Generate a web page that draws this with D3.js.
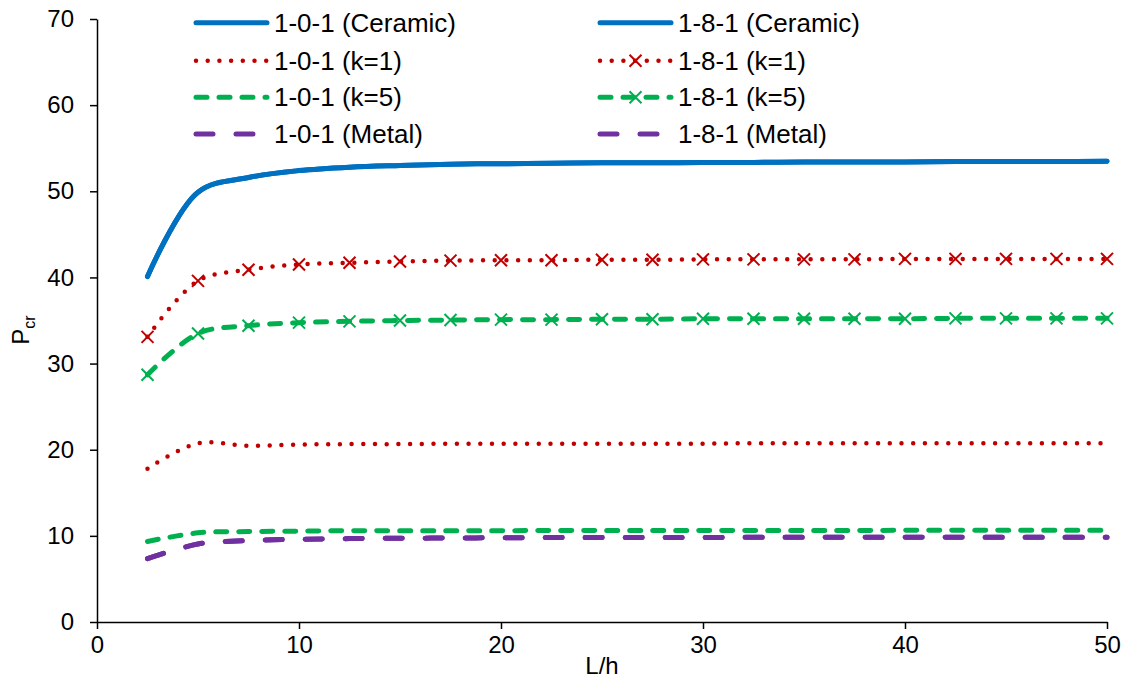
<!DOCTYPE html>
<html>
<head>
<meta charset="utf-8">
<script src="https://cdn.jsdelivr.net/npm/d3@7"></script>
<style>
  body { margin: 0; background: #fff; }
  text { font-family: "Liberation Sans", Arial, sans-serif; fill: #000; }
</style>
</head>
<body>
<svg width="1130" height="679"></svg>
<script>
// L/h values, shared by every series
const lh = [2.5, 5, 7.5, 10, 12.5, 15, 17.5, 20, 22.5, 25, 27.5, 30, 32.5, 35, 37.5, 40, 42.5, 45, 47.5, 50];

const ceramic101 = [40.1, 49.9, 51.6, 52.4, 52.8, 53.0, 53.15, 53.2, 53.25, 53.3, 53.3, 53.35, 53.35, 53.4, 53.4, 53.4, 53.45, 53.45, 53.45, 53.5];
const k1_101 = [17.8, 20.75, 20.45, 20.6, 20.65, 20.65, 20.7, 20.7, 20.7, 20.7, 20.7, 20.7, 20.75, 20.75, 20.75, 20.75, 20.75, 20.75, 20.75, 20.75];
const k5_101 = [9.35, 10.35, 10.5, 10.55, 10.6, 10.6, 10.6, 10.6, 10.62, 10.62, 10.62, 10.62, 10.63, 10.63, 10.63, 10.64, 10.64, 10.65, 10.65, 10.65];
const metal101 = [7.35, 9.05, 9.45, 9.6, 9.68, 9.72, 9.75, 9.78, 9.8, 9.8, 9.82, 9.82, 9.83, 9.83, 9.84, 9.84, 9.85, 9.85, 9.85, 9.85];

const ceramic181 = [40.1, 49.9, 51.6, 52.4, 52.8, 53.0, 53.15, 53.2, 53.25, 53.3, 53.3, 53.35, 53.35, 53.4, 53.4, 53.4, 53.45, 53.45, 53.45, 53.5];
const k1_181 = [33.1, 39.6, 40.9, 41.5, 41.7, 41.85, 41.95, 42.0, 42.0, 42.05, 42.05, 42.1, 42.1, 42.1, 42.1, 42.15, 42.15, 42.15, 42.15, 42.15];
const k5_181 = [28.7, 33.5, 34.4, 34.75, 34.9, 35.0, 35.05, 35.1, 35.1, 35.15, 35.15, 35.2, 35.2, 35.2, 35.2, 35.2, 35.25, 35.25, 35.25, 35.25];
const metal181 = [7.35, 9.05, 9.45, 9.6, 9.68, 9.72, 9.75, 9.78, 9.8, 9.8, 9.82, 9.82, 9.83, 9.83, 9.84, 9.84, 9.85, 9.85, 9.85, 9.85];

const xTicks = [0, 10, 20, 30, 40, 50];
const yTicks = [0, 10, 20, 30, 40, 50, 60, 70];

const styles = {
    ceramic: { color: "#0070C0", width: 5, dash: null },
    k1: { color: "#C00000", width: 4.5, dash: "0 11.7" },
    k5: { color: "#00B050", width: 5, dash: "11 12" },
    metal: { color: "#7030A0", width: 5, dash: "17 23" }
};

const series = [
    { name: "1-0-1 (Ceramic)", values: ceramic101, style: "ceramic", marker: false, col: 0, row: 0 },
    { name: "1-0-1 (k=1)", values: k1_101, style: "k1", marker: false, col: 0, row: 1 },
    { name: "1-0-1 (k=5)", values: k5_101, style: "k5", marker: false, col: 0, row: 2 },
    { name: "1-0-1 (Metal)", values: metal101, style: "metal", marker: false, col: 0, row: 3 },
    { name: "1-8-1 (Ceramic)", values: ceramic181, style: "ceramic", marker: false, col: 1, row: 0 },
    { name: "1-8-1 (k=1)", values: k1_181, style: "k1", marker: true, col: 1, row: 1 },
    { name: "1-8-1 (k=5)", values: k5_181, style: "k5", marker: true, col: 1, row: 2 },
    { name: "1-8-1 (Metal)", values: metal181, style: "metal", marker: false, col: 1, row: 3 }
];

const svg = d3.select("svg");
const margin = { top: 19, right: 23, bottom: 57, left: 97 };
const width = +svg.attr("width") - margin.left - margin.right;
const height = +svg.attr("height") - margin.top - margin.bottom;

const x = d3.scaleLinear().domain([0, 50]).range([margin.left, margin.left + width]);
const y = d3.scaleLinear().domain([0, 70]).range([margin.top + height, margin.top]);

// axes
const xAxis = svg.append("g")
    .attr("transform", `translate(0,${margin.top + height})`)
    .call(d3.axisBottom(x).tickValues(xTicks).tickSize(7).tickPadding(7).tickSizeOuter(0));
const yAxis = svg.append("g")
    .attr("transform", `translate(${margin.left},0)`)
    .call(d3.axisLeft(y).tickValues(yTicks).tickSize(7).tickPadding(16).tickSizeOuter(0));

[xAxis, yAxis].forEach(a => {
    a.selectAll("path, line").attr("stroke", "#000").attr("stroke-width", 1.5);
    a.selectAll("text").style("font-size", "24px").attr("fill", "#000");
    a.attr("font-family", null);
});

svg.append("text")
    .attr("x", 602)
    .attr("y", 674)
    .attr("text-anchor", "middle")
    .style("font-size", "24px")
    .text("L/h");

const yTitle = svg.append("text")
    .attr("transform", "translate(29,330) rotate(-90)")
    .attr("text-anchor", "middle")
    .style("font-size", "24px");
yTitle.append("tspan").text("P");
yTitle.append("tspan").attr("dy", 6).style("font-size", "16px").text("cr");

// lines
const line = d3.line()
    .x((d, i) => x(lh[i]))
    .y(d => y(d))
    .curve(d3.curveCatmullRom.alpha(0.5));

const cross = (g, cx, cy, color) => {
    const s = 6;
    g.append("path")
        .attr("d", `M${cx - s},${cy - s}L${cx + s},${cy + s}M${cx - s},${cy + s}L${cx + s},${cy - s}`)
        .attr("stroke", color)
        .attr("stroke-width", 2)
        .attr("fill", "none");
};

const plot = svg.append("g");
series.forEach(s => {
    const st = styles[s.style];
    plot.append("path")
        .datum(s.values)
        .attr("d", line)
        .attr("fill", "none")
        .attr("stroke", st.color)
        .attr("stroke-width", st.width)
        .attr("stroke-linecap", "round")
        .attr("stroke-dasharray", st.dash);
    if (s.marker) {
        s.values.forEach((v, i) => cross(plot, x(lh[i]), y(v), st.color));
    }
});

// legend
const legendX = [196, 600];
const legendY = [22.7, 60.7, 97.3, 134];
const sampleLen = 71;
const legend = svg.append("g");
series.forEach(s => {
    const st = styles[s.style];
    const lx = legendX[s.col];
    const ly = legendY[s.row];
    legend.append("line")
        .attr("x1", lx).attr("x2", lx + sampleLen)
        .attr("y1", ly).attr("y2", ly)
        .attr("stroke", st.color)
        .attr("stroke-width", st.width)
        .attr("stroke-linecap", "round")
        .attr("stroke-dasharray", st.dash);
    if (s.marker) cross(legend, lx + sampleLen / 2, ly, st.color);
    legend.append("text")
        .attr("x", lx + sampleLen + 7)
        .attr("y", ly)
        .attr("dy", "0.35em")
        .style("font-size", "26px")
        .text(s.name);
});
</script>
</body>
</html>
